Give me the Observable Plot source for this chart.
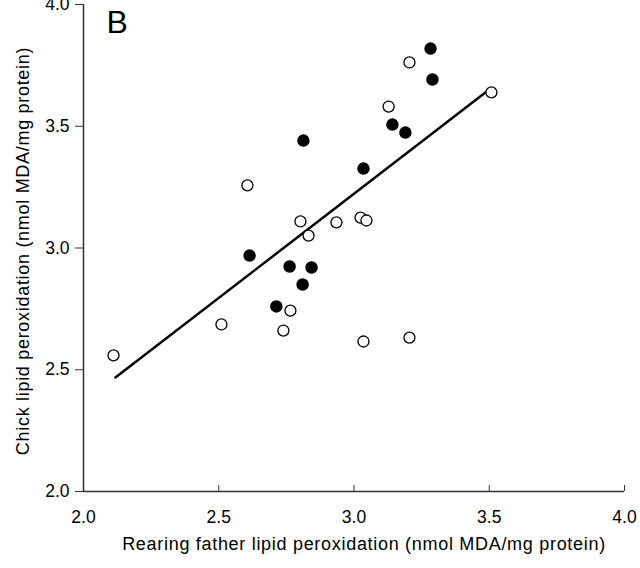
<!DOCTYPE html>
<html><head><meta charset="utf-8">
<script src="https://cdn.jsdelivr.net/npm/d3@7"></script>
<script src="https://cdn.jsdelivr.net/npm/@observablehq/plot@0.6"></script>
<style>body{margin:0;background:#fff} #chart svg{display:block}</style>
</head><body><div id="chart"></div>
<script>
// Open circles
const openX = [2.111, 2.510, 2.606, 2.802, 2.832, 2.935, 3.024, 3.046, 2.765, 2.739, 3.035, 3.205, 3.205, 3.128, 3.508];
const openY = [2.559, 2.686, 3.257, 3.109, 3.051, 3.105, 3.125, 3.113, 2.743, 2.661, 2.616, 2.632, 3.762, 3.581, 3.639];
// Filled circles
const filledX = [3.283, 3.290, 2.813, 3.035, 3.142, 3.190, 2.614, 2.762, 2.843, 2.810, 2.713];
const filledY = [3.819, 3.692, 3.441, 3.326, 3.507, 3.474, 2.969, 2.924, 2.920, 2.850, 2.760];
// Regression line end points
const lineX = [2.118, 3.505];
const lineY = [2.468, 3.655];
const xTicks = [2.0, 2.5, 3.0, 3.5, 4.0];
const yTicks = [2.0, 2.5, 3.0, 3.5, 4.0];
const panelLabel = "B";
const xTitle = "Rearing father lipid peroxidation (nmol MDA/mg protein)";
const yTitle = "Chick lipid peroxidation (nmol MDA/mg protein)";

const openPts = openX.map((x, i) => ({x, y: openY[i]}));
const filledPts = filledX.map((x, i) => ({x, y: filledY[i]}));
const linePts = lineX.map((x, i) => ({x, y: lineY[i]}));
const fmt = d3.format(".1f");

const chart = Plot.plot({
  width: 640, height: 568,
  marginLeft: 83, marginRight: 16, marginTop: 4, marginBottom: 77,
  style: {fontFamily: "'Liberation Sans', Arial, sans-serif", fontSize: "17px", color: "#000", background: "#fff", overflow: "visible"},
  x: {domain: [2, 4]},
  y: {domain: [2, 4]},
  marks: [
    Plot.axisY({ticks: yTicks, tickFormat: fmt, tickSize: 8, tickPadding: 6, label: null, stroke: "#333", fill: "#000", fontSize: 17.5}),
    Plot.axisX({ticks: xTicks, tickFormat: fmt, tickSize: -6, tickPadding: 25, label: null, stroke: "#333", fill: "#000", fontSize: 17.5}),
    Plot.ruleX([xTicks[0]], {stroke: "#333", strokeWidth: 1.5}),
    Plot.ruleY([yTicks[0]], {stroke: "#333", strokeWidth: 1.5}),
    Plot.line(linePts, {x: "x", y: "y", stroke: "#000", strokeWidth: 2.5}),
    Plot.dot(filledPts, {x: "x", y: "y", r: 5.5, fill: "#000", stroke: "#000"}),
    Plot.dot(openPts, {x: "x", y: "y", r: 5.5, fill: "#fff", stroke: "#000", strokeWidth: 1.3}),
    Plot.text([panelLabel], {frameAnchor: "top-left", dx: 23, dy: 6, fontSize: 32, textAnchor: "start", lineAnchor: "top", fill: "#000"}),
    Plot.text([xTitle], {frameAnchor: "bottom", dx: 10, dy: 58, fontSize: 18, fill: "#000"}),
    Plot.text([yTitle], {frameAnchor: "left", dx: -60, dy: 3, rotate: -90, textAnchor: "middle", fontSize: 18, fill: "#000"})
  ]
});
// slightly looser tracking on the axis titles, as in the reference
d3.select(chart).selectAll("text").filter(function () {
  return this.textContent === xTitle || this.textContent === yTitle;
}).attr("letter-spacing", "0.7px");
document.getElementById("chart").append(chart);
</script>
</body></html>
